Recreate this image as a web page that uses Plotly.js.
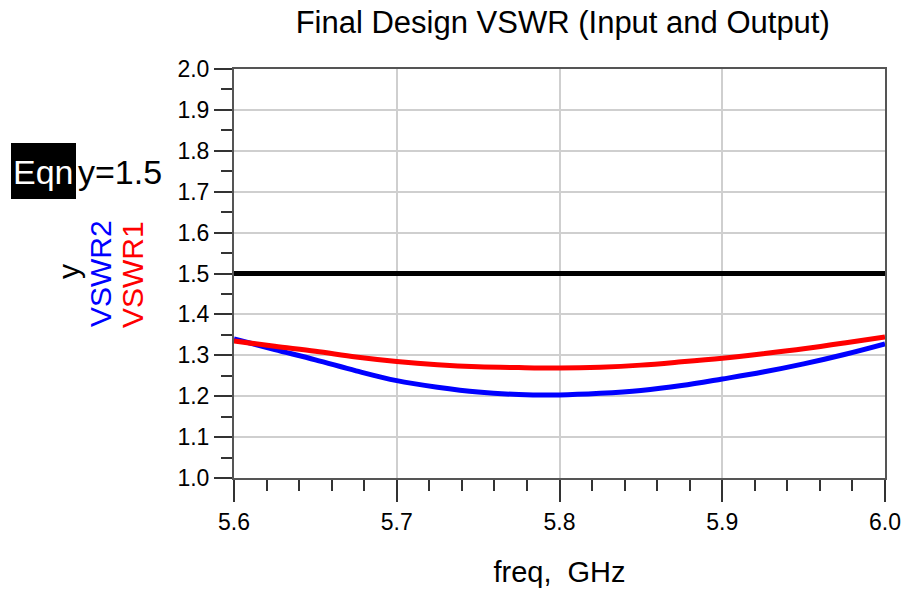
<!DOCTYPE html>
<html>
<head>
<meta charset="utf-8">
<script src="https://cdn.plot.ly/plotly-3.0.1.min.js"></script>
<style>
html,body{margin:0;padding:0;background:#fff;}
#chart{width:905px;height:597px;}
</style>
</head>
<body>
<div id="chart"></div>
<script>
// Frequency points (GHz)
const freq = [5.6, 5.625, 5.65, 5.675, 5.7, 5.725, 5.75, 5.775, 5.8, 5.825, 5.85, 5.875, 5.9, 5.925, 5.95, 5.975, 6.0];
// VSWR1 (red)
const vswr1 = [1.335, 1.322, 1.310, 1.296, 1.285, 1.277, 1.272, 1.270, 1.269, 1.271, 1.276, 1.284, 1.293, 1.304, 1.316, 1.330, 1.345];
// VSWR2 (blue)
const vswr2 = [1.340, 1.314, 1.289, 1.262, 1.238, 1.222, 1.210, 1.204, 1.203, 1.207, 1.214, 1.226, 1.242, 1.259, 1.279, 1.302, 1.328];
// Equation y = 1.5
const eqnX = [5.6, 6.0];
const eqnY = [1.5, 1.5];

const FONT = "Liberation Sans, Arial, sans-serif";

const traces = [
  {x: eqnX, y: eqnY, mode: 'lines', line: {color: '#000000', width: 5}, name: 'y', hoverinfo: 'skip'},
  {x: freq, y: vswr2, mode: 'lines', line: {color: '#0000ff', width: 5, shape: 'spline', smoothing: 1}, name: 'VSWR2'},
  {x: freq, y: vswr1, mode: 'lines', line: {color: '#ff0000', width: 5, shape: 'spline', smoothing: 1}, name: 'VSWR1'}
];

function px2x(px){ return (px - 234) / 651; }
function px2y(py){ return (478 - py) / 409; }

const layout = {
  width: 905, height: 597,
  margin: {l: 234, r: 20, t: 69, b: 119},
  paper_bgcolor: '#ffffff', plot_bgcolor: '#ffffff',
  showlegend: false,
  font: {family: FONT, color: '#000'},
  title: {
    text: 'Final Design VSWR (Input and Output)',
    font: {family: FONT, size: 31, color: '#000'},
    xref: 'paper', x: 0.505, xanchor: 'center',
    yref: 'container', y: 1 - 22/597, yanchor: 'middle'
  },
  xaxis: {
    range: [5.6, 6.0], dtick: 0.1, tick0: 5.6, tickformat: '.1f',
    ticks: 'outside', ticklen: 22, tickwidth: 2, tickcolor: '#333',
    minor: {dtick: 0.02, ticks: 'outside', ticklen: 11, tickwidth: 2, tickcolor: '#333', showgrid: false},
    showgrid: true, gridcolor: '#cfcfcf', gridwidth: 2,
    showline: true, linecolor: '#555', linewidth: 2, mirror: true,
    zeroline: false,
    tickfont: {family: FONT, size: 23, color: '#000'},
    title: {text: 'freq,  GHz', font: {family: FONT, size: 29, color: '#000'}, standoff: 28}
  },
  yaxis: {
    range: [1.0, 2.0], dtick: 0.1, tick0: 1.0, tickformat: '.1f',
    ticks: 'outside', ticklen: 18, tickwidth: 2, tickcolor: '#333',
    minor: {dtick: 0.05, ticks: 'outside', ticklen: 11, tickwidth: 2, tickcolor: '#333', showgrid: false},
    showgrid: true, gridcolor: '#cfcfcf', gridwidth: 2,
    showline: true, linecolor: '#555', linewidth: 2, mirror: true,
    zeroline: false,
    tickfont: {family: FONT, size: 23, color: '#000'}
  },
  shapes: [
    {type: 'rect', xref: 'paper', yref: 'paper', x0: px2x(11), x1: px2x(76), y0: px2y(199), y1: px2y(143),
     fillcolor: '#000', line: {width: 0}, layer: 'above'}
  ],
  annotations: [
    {text: 'Eqn', xref: 'paper', yref: 'paper', x: px2x(76), y: px2y(172), xanchor: 'right', yanchor: 'middle',
     showarrow: false, font: {family: FONT, size: 34, color: '#fff'}},
    {text: 'y=1.5', xref: 'paper', yref: 'paper', x: px2x(76), y: px2y(172), xanchor: 'left', yanchor: 'middle',
     showarrow: false, font: {family: FONT, size: 34, color: '#000'}},
    {text: 'y', xref: 'paper', yref: 'paper', x: px2x(68), y: px2y(272), xanchor: 'center', yanchor: 'middle',
     textangle: -90, showarrow: false, font: {family: FONT, size: 30, color: '#000'}},
    {text: 'VSWR2', xref: 'paper', yref: 'paper', x: px2x(100), y: px2y(274), xanchor: 'center', yanchor: 'middle',
     textangle: -90, showarrow: false, font: {family: FONT, size: 30, color: '#0000ff'}},
    {text: 'VSWR1', xref: 'paper', yref: 'paper', x: px2x(132), y: px2y(275), xanchor: 'center', yanchor: 'middle',
     textangle: -90, showarrow: false, font: {family: FONT, size: 30, color: '#ff0000'}}
  ]
};

Plotly.newPlot('chart', traces, layout, {displayModeBar: false, staticPlot: true});
</script>
</body>
</html>
